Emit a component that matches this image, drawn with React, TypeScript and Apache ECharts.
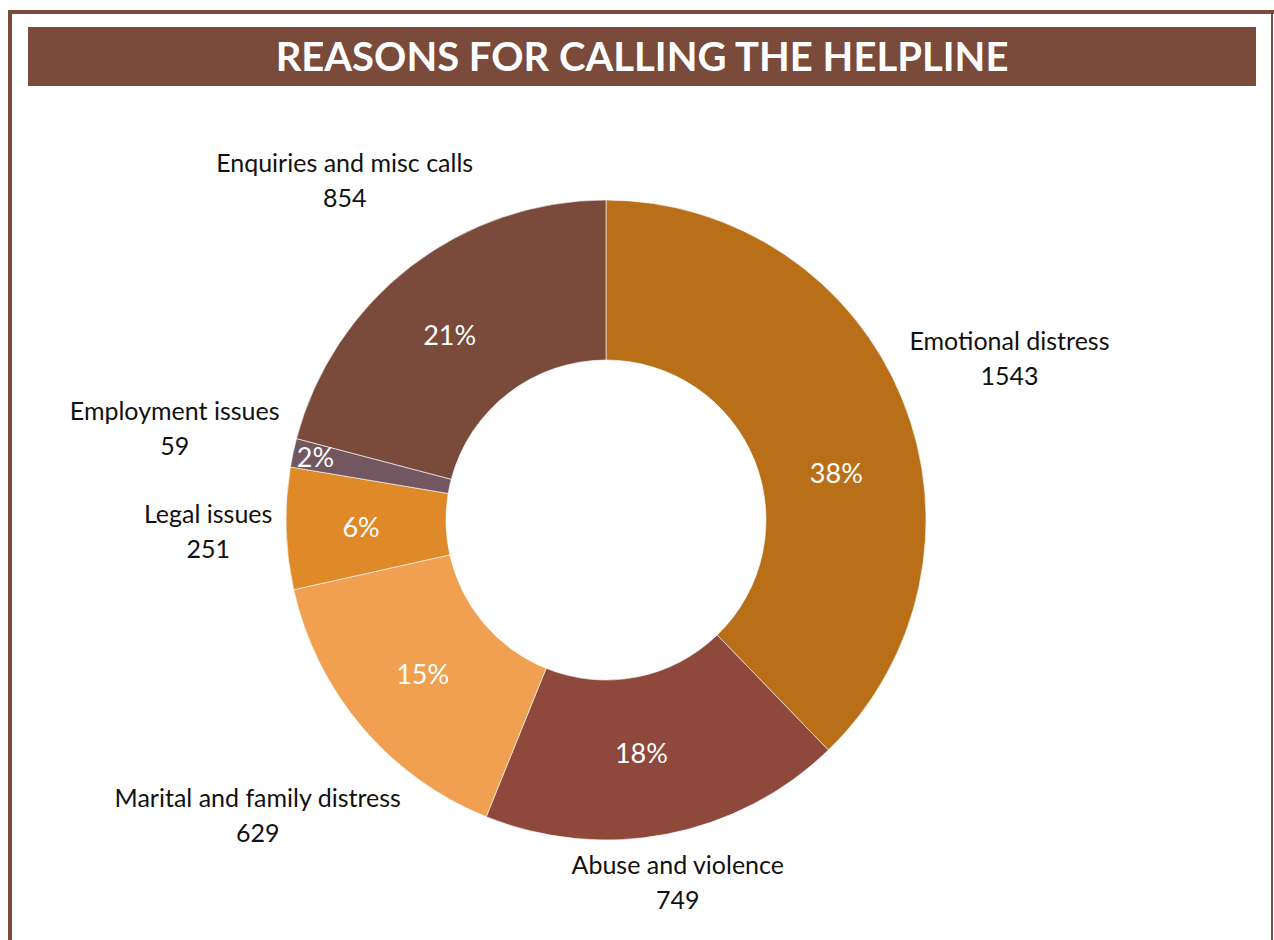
import React, { useEffect, useRef } from "react";
import * as echarts from "echarts";

const titleText = "REASONS FOR CALLING THE HELPLINE";
const categories = [
  "Emotional distress",
  "Abuse and violence",
  "Marital and family distress",
  "Legal issues",
  "Employment issues",
  "Enquiries and misc calls",
];
const values = [1543, 749, 629, 251, 59, 854];

const colors = ["#B86F18", "#8F483C", "#F0A050", "#E08928", "#735760", "#7A4A3B"];
const innerOffsets = [[5, 44], [-11, -6], [2, -4], [-2, 0], [-53, -12], [-8, 7]];
const outerOffsets = [[2, 0], [-11, -64], [-18, 14], [35, -1], [-8, -1], [3, 2]];

const BROWN = "#7A4A3B";
const FONT = "Lato, 'Open Sans', sans-serif";

export default function App() {
  const ref = useRef<HTMLDivElement>(null);
  useEffect(() => {
    if (!ref.current) return;
    const chart = echarts.init(ref.current, undefined, { renderer: "svg" });
    const center = [606, 520];
    chart.setOption({
      animation: false,
      backgroundColor: "#ffffff",
      graphic: [
        { type: "rect", shape: { x: 8, y: 10, width: 4, height: 940 }, style: { fill: BROWN } },
        { type: "rect", shape: { x: 8, y: 10, width: 1266, height: 4 }, style: { fill: BROWN } },
        { type: "rect", shape: { x: 1271, y: 10, width: 2, height: 940 }, style: { fill: BROWN } },
        { type: "rect", shape: { x: 28, y: 27, width: 1228, height: 59 }, style: { fill: BROWN } },
        {
          type: "text",
          x: 642,
          y: 56,
          style: {
            text: titleText,
            fill: "#ffffff",
            font: `bold 40px ${FONT}`,
            align: "center",
            verticalAlign: "middle",
          },
        },
      ],
      series: [
        {
          type: "pie",
          center,
          radius: [160, 320],
          startAngle: 90,
          clockwise: true,
          silent: true,
          percentPrecision: 0,
          itemStyle: { borderColor: "#ffffff", borderWidth: 0.6 },
          label: {
            show: true,
            position: "inside",
            formatter: "{d}%",
            color: "#ffffff",
            fontSize: 27,
            fontFamily: FONT,
          },
          labelLine: { show: false },
          data: categories.map((name, i) => ({
            name,
            value: values[i],
            itemStyle: { color: colors[i] },
            label: { offset: innerOffsets[i] },
          })),
        },
        {
          type: "pie",
          center,
          radius: [400, 460],
          startAngle: 90,
          clockwise: true,
          silent: true,
          itemStyle: { color: "rgba(0,0,0,0)", borderWidth: 0 },
          label: {
            show: true,
            position: "inside",
            formatter: "{b}\n{c}",
            color: "#111111",
            fontSize: 25,
            lineHeight: 35,
            fontFamily: FONT,
            align: "center",
          },
          labelLine: { show: false },
          data: categories.map((name, i) => ({
            name,
            value: values[i],
            label: { offset: outerOffsets[i] },
          })),
        },
      ],
    });
    return () => chart.dispose();
  }, []);
  return (
    <div
      ref={ref}
      style={{ position: "fixed", left: 0, top: 0, width: 1274, height: 940 }}
    />
  );
}
